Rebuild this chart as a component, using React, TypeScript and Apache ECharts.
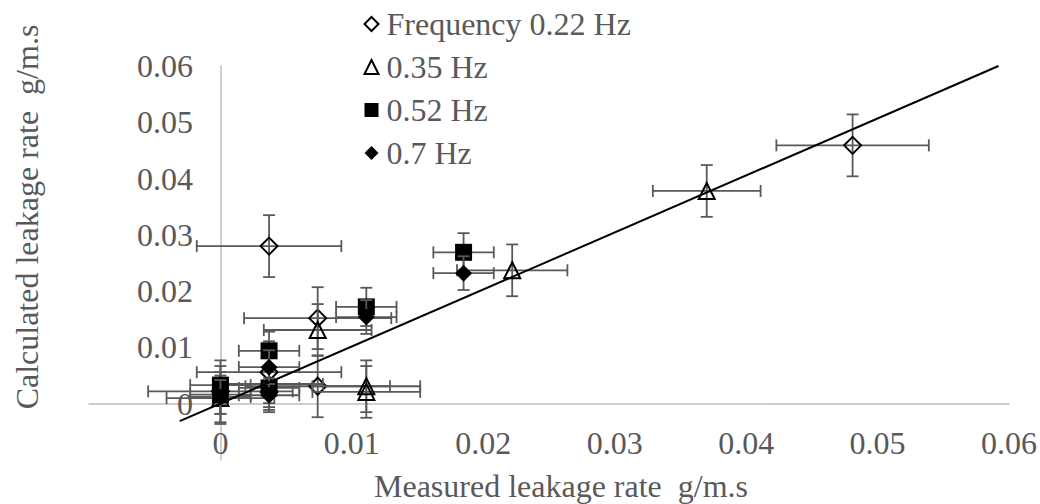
import React, { useEffect, useRef } from 'react';
import * as echarts from 'echarts';

const seriesNames = ['Frequency 0.22 Hz', '0.35 Hz', '0.52 Hz', '0.7 Hz'];

// Frequency 0.22 Hz (open diamond)
const x022 = [0, 0.0037, 0.0074, 0.0074, 0.0037, 0.0481];
const y022 = [0.0022, 0.0056, 0.0152, 0.0031, 0.028, 0.0459];
const ex022 = [0.0055, 0.0055, 0.0056, 0.0055, 0.0055, 0.0058];
const ey022 = [0.0055, 0.0055, 0.0055, 0.0055, 0.0055, 0.0055];

// 0.35 Hz (open triangle)
const x035 = [0, 0.0037, 0.0074, 0.0111, 0.0111, 0.0222, 0.037];
const y035 = [0.001, 0.0035, 0.0131, 0.0031, 0.0021, 0.0237, 0.0378];
const ex035 = [0.0041, 0.0041, 0.0041, 0.0041, 0.0041, 0.0042, 0.0041];
const ey035 = [0.0046, 0.0046, 0.0046, 0.0046, 0.0046, 0.0046, 0.0046];

// 0.52 Hz (filled square)
const x052 = [0, 0, 0.0037, 0.0037, 0.0111, 0.0185];
const y052 = [0.0033, 0.0016, 0.0094, 0.0028, 0.0172, 0.0269];
const ex052 = [0.0023, 0.0023, 0.0023, 0.0023, 0.0023, 0.0023];
const ey052 = [0.0034, 0.0034, 0.0034, 0.0034, 0.0034, 0.0034];

// 0.7 Hz (filled diamond)
const x07 = [0, 0.0037, 0.0037, 0.0111, 0.0185];
const y07 = [0.0012, 0.0065, 0.0015, 0.0154, 0.0232];
const ex07 = [0.0023, 0.0023, 0.0023, 0.0023, 0.0023];
const ey07 = [0.003, 0.003, 0.003, 0.003, 0.003];

// Trendline endpoints
const trendX = [-0.0031, 0.0592];
const trendY = [-0.0031, 0.06];

const FONT = '"Liberation Serif", "Times New Roman", serif';
const GRAY = '#595959';

function errSeries(name: string, xs: number[], ys: number[], exs: number[], eys: number[], z: number) {
  const data = xs.map((x, i) => [x, ys[i], exs[i], eys[i]]);
  return {
    type: 'custom',
    name: name + ' err',
    z,
    silent: true,
    encode: { x: 0, y: 1 },
    data,
    renderItem: (_params: any, api: any) => {
      const x = api.value(0);
      const y = api.value(1);
      const ex = api.value(2);
      const ey = api.value(3);
      const l = api.coord([x - ex, y]);
      const r = api.coord([x + ex, y]);
      const t = api.coord([x, y + ey]);
      const b = api.coord([x, y - ey]);
      const cap = 6;
      const style = { stroke: GRAY, lineWidth: 1.8, fill: 'none' };
      return {
        type: 'group',
        children: [
          { type: 'line', shape: { x1: l[0], y1: l[1], x2: r[0], y2: r[1] }, style },
          { type: 'line', shape: { x1: l[0], y1: l[1] - cap, x2: l[0], y2: l[1] + cap }, style },
          { type: 'line', shape: { x1: r[0], y1: r[1] - cap, x2: r[0], y2: r[1] + cap }, style },
          { type: 'line', shape: { x1: t[0], y1: t[1], x2: b[0], y2: b[1] }, style },
          { type: 'line', shape: { x1: t[0] - cap, y1: t[1], x2: t[0] + cap, y2: t[1] }, style },
          { type: 'line', shape: { x1: b[0] - cap, y1: b[1], x2: b[0] + cap, y2: b[1] }, style },
        ],
      };
    },
  };
}

function scatterSeries(name: string, xs: number[], ys: number[], symbol: string, size: number, open: boolean, z: number) {
  return {
    type: 'scatter',
    name,
    z,
    symbol,
    symbolSize: size,
    data: xs.map((x, i) => [x, ys[i]]),
    itemStyle: open
      ? { color: 'none', borderColor: '#000', borderWidth: 2, opacity: 1 }
      : { color: '#000', borderColor: '#000', borderWidth: 0, opacity: 1 },
  };
}

const tickFmt = (v: number) => (v < -1e-9 ? '' : String(parseFloat(v.toFixed(2))));

export default function App() {
  const ref = useRef<HTMLDivElement>(null);
  useEffect(() => {
    if (!ref.current) return;
    const chart = echarts.init(ref.current, undefined, { renderer: 'svg' });
    const axisCommon = {
      type: 'value',
      min: -0.01,
      max: 0.06,
      interval: 0.01,
      axisLine: { show: true, onZero: true, lineStyle: { color: '#bfbfbf', width: 1.5 } },
      axisTick: { show: false },
      splitLine: { show: false },
    };
    chart.setOption({
      animation: false,
      backgroundColor: '#fff',
      grid: { left: 89, right: 31, top: 66, bottom: 44, containLabel: false, outerBoundsMode: 'none' },
      xAxis: {
        ...axisCommon,
        axisLabel: { margin: -33, fontSize: 32, color: GRAY, fontFamily: FONT, formatter: tickFmt },
      },
      yAxis: {
        ...axisCommon,
        axisLabel: { margin: -104, fontSize: 32, color: GRAY, fontFamily: FONT, formatter: tickFmt },
      },
      legend: {
        data: seriesNames,
        orient: 'vertical',
        left: 362,
        top: 8,
        padding: 0,
        itemWidth: 14,
        itemHeight: 14,
        itemGap: 11,
        textStyle: { fontSize: 32, color: GRAY, fontFamily: FONT, lineHeight: 32, padding: [0, 0, 0, 3] },
      },
      graphic: [
        {
          type: 'text',
          x: 561,
          y: 486,
          style: {
            text: 'Measured leakage rate  g/m.s',
            font: '32px ' + FONT,
            fill: GRAY,
            align: 'center',
            verticalAlign: 'middle',
          },
        },
        {
          type: 'text',
          x: 27,
          y: 217,
          rotation: Math.PI / 2,
          style: {
            text: 'Calculated leakage rate  g/m.s',
            font: '32px ' + FONT,
            fill: GRAY,
            align: 'center',
            verticalAlign: 'middle',
          },
        },
      ],
      series: [
        errSeries(seriesNames[0], x022, y022, ex022, ey022, 2),
        scatterSeries(seriesNames[0], x022, y022, 'diamond', 17, true, 3),
        errSeries(seriesNames[1], x035, y035, ex035, ey035, 4),
        scatterSeries(seriesNames[1], x035, y035, 'triangle', 16, true, 5),
        errSeries(seriesNames[2], x052, y052, ex052, ey052, 6),
        scatterSeries(seriesNames[2], x052, y052, 'rect', 17, false, 7),
        errSeries(seriesNames[3], x07, y07, ex07, ey07, 8),
        scatterSeries(seriesNames[3], x07, y07, 'diamond', 17, false, 9),
        {
          type: 'line',
          name: 'trend',
          z: 20,
          symbol: 'none',
          clip: true,
          data: trendX.map((x, i) => [x, trendY[i]]),
          lineStyle: { color: '#000', width: 2 },
          silent: true,
        },
      ],
    });
    return () => chart.dispose();
  }, []);
  return <div ref={ref} style={{ width: 1040, height: 504, position: 'absolute', left: 0, top: 0 }} />;
}
